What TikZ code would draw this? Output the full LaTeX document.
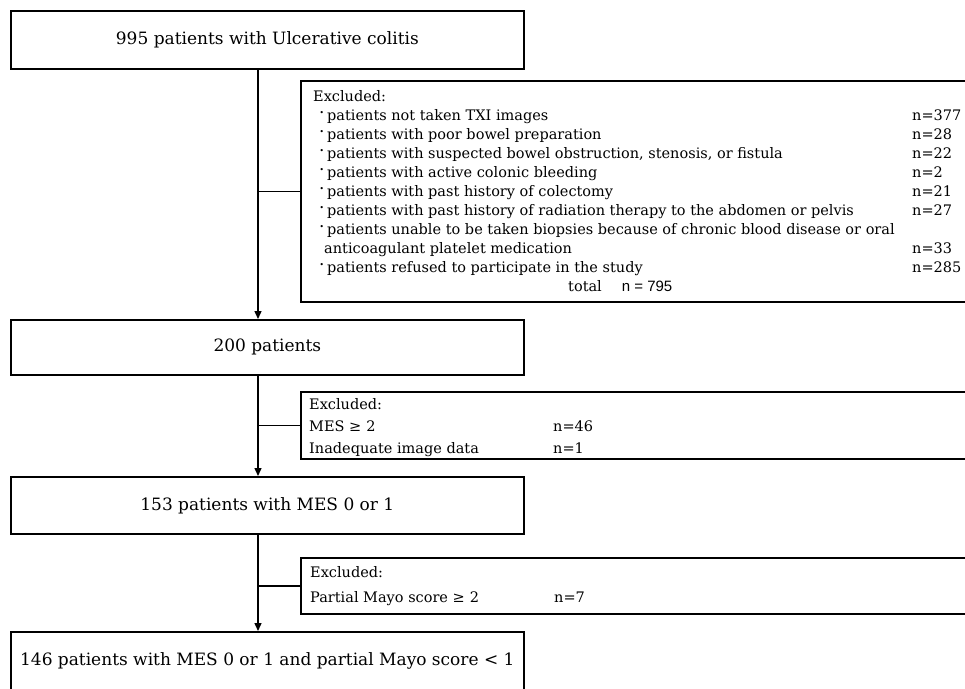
\documentclass[tikz,border=0pt]{standalone}
\usepackage{fontspec}
\setmainfont{DejaVu Serif}
\newfontfamily\totfont{Liberation Sans}
\usetikzlibrary{arrows.meta}
\tikzset{
  mainbox/.style={draw, line width=1.7pt, minimum width=513pt, anchor=north west, inner sep=0pt, font=\fontsize{17}{20}\selectfont},
  exbox/.style={draw, line width=1.7pt, minimum width=675pt, anchor=north west, inner sep=0pt},
  extext/.style={anchor=base west, inner sep=0pt, font=\fontsize{14.5}{#1}\selectfont},
  extext/.default=19,
  link/.style={line width=1.4pt},
  arr/.style={link, -{Triangle[length=8pt,width=7pt]}},
}
\newcommand\bul{\makebox[8pt][l]{\raisebox{2pt}{\fontsize{17}{17}\selectfont ·}}}
\begin{document}
\begin{tikzpicture}[x=1pt,y=-1pt]
\clip (0,0) rectangle (965,688);
\fill[white] (0,0) rectangle (965,688);
\coordinate (spine) at (258,0);
% main boxes
\node[mainbox, minimum height=58pt] (b1) at (10,10) {995 patients with Ulcerative colitis};
\node[mainbox, minimum height=55pt] (b2) at (10,319) {200 patients};
\node[mainbox, minimum height=57pt] (b3) at (10,476) {153 patients with MES 0 or 1};
\node[mainbox, minimum height=57.5pt] (b4) at (10,631) {146 patients with MES 0 or 1 and partial Mayo score < 1};
% exclusion boxes
\node[exbox, minimum height=221pt] (e1) at (300,80) {};
\node[exbox, minimum height=67pt] (e2) at (300,391) {};
\node[exbox, minimum height=56pt] (e3) at (300,557) {};
% exclusion texts
\node[extext] (t1) at (313,101) {\begin{tabular}[t]{@{}p{599pt}@{}l@{}}
Excluded: & \\
\hspace*{6pt}\bul patients not taken TXI images & n=377\\
\hspace*{6pt}\bul patients with poor bowel preparation & n=28\\
\hspace*{6pt}\bul patients with suspected bowel obstruction, stenosis, or fistula & n=22\\
\hspace*{6pt}\bul patients with active colonic bleeding & n=2\\
\hspace*{6pt}\bul patients with past history of colectomy & n=21\\
\hspace*{6pt}\bul patients with past history of radiation therapy to the abdomen or pelvis & n=27\\
\hspace*{6pt}\bul patients unable to be taken biopsies because of chronic blood disease or oral & \\
\hspace*{11pt}anticoagulant platelet medication & n=33\\
\hspace*{6pt}\bul patients refused to participate in the study & n=285\\
\multicolumn{2}{@{}l@{}}{\hspace*{255pt}total\hspace{20pt}{\totfont\fontsize{15}{19}\selectfont n = 795}}
\end{tabular}};
\node[extext=22] (t2) at (309,409) {\begin{tabular}[t]{@{}p{244pt}@{}l@{}}
Excluded: & \\
MES ≥\hspace{5pt}2 & n=46\\
Inadequate image data & n=1
\end{tabular}};
\node[extext=25] (t3) at (310,577) {\begin{tabular}[t]{@{}p{244pt}@{}l@{}}
Excluded: & \\
Partial Mayo score ≥\hspace{5pt}2 & n=7
\end{tabular}};
% connectors
\draw[arr] (b1.south -| spine) -- (b2.north -| spine);
\draw[arr] (b2.south -| spine) -- (b3.north -| spine);
\draw[arr] (b3.south -| spine) -- (b4.north -| spine);
\draw[link] (e1.west -| spine) -- (e1.west);
\draw[link] (e2.west -| spine) -- (e2.west);
\draw[link] (e3.west -| spine) -- (e3.west);
\end{tikzpicture}
\end{document}
